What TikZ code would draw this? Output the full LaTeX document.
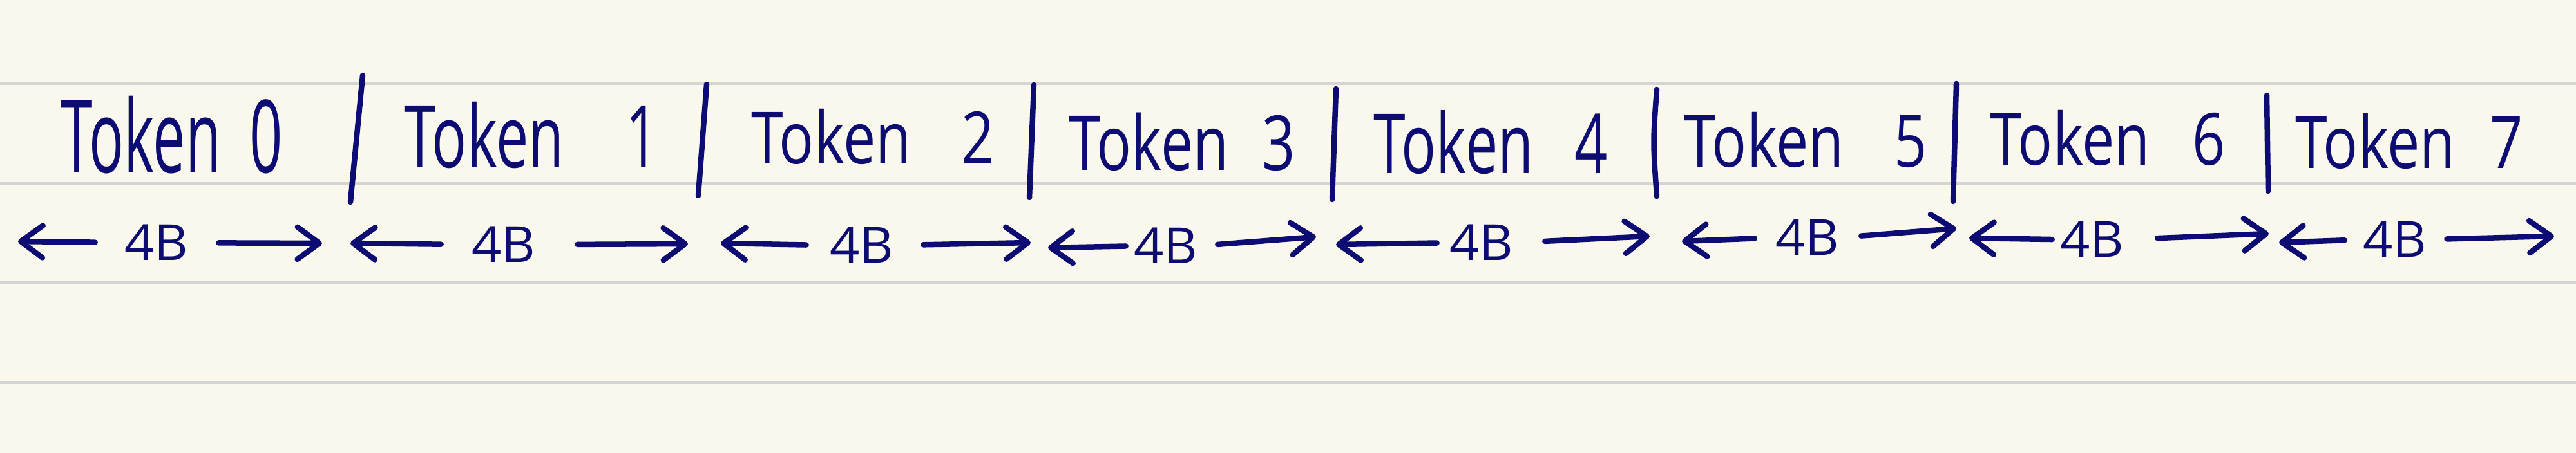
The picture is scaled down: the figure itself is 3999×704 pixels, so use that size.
\documentclass[tikz,border=0pt]{standalone}
\usepackage{fontspec}
\setmainfont{Open Sans}
\usetikzlibrary{arrows.meta}
\definecolor{paper}{RGB}{250,248,236}
\definecolor{rulegray}{RGB}{212,212,212}
\definecolor{ink}{RGB}{12,12,115}
\begin{document}
\begin{tikzpicture}[x=0.01cm,y=-0.01cm,
  ruleline/.style={rulegray, line width=0.04cm},
  sepline/.style={ink, line width=0.085cm, line cap=round},
  tok/.style={ink, inner sep=0pt, anchor=base, xscale=0.8, font=\fontsize{31.9pt}{36pt}\selectfont},
  sizelbl/.style={ink, inner sep=0pt, anchor=base, xscale=1.05, font=\fontsize{22pt}{26pt}\selectfont},
  arr/.style={ink, line width=0.085cm, line cap=round,
    -{Straight Barb[length=0.34cm,width=0.5cm,line cap=round,line join=round]}}]
\useasboundingbox (0,0) rectangle (3999,704);
\fill[paper] (0,0) rectangle (3999,704);
% ruled lines
\foreach \yy in {130,285,439,594} \draw[ruleline] (0,\yy) -- (3999,\yy);
% separators
\draw[sepline] (563,117) -- (544,314);
\draw[sepline] (1097,131) -- (1084,304);
\draw[sepline] (1605,132) -- (1598,307);
\draw[sepline] (2074,138) -- (2068,310);
\draw[sepline] (2572,139) .. controls (2566,220) .. (2572,305);
\draw[sepline] (3037,130) -- (3032,313);
\draw[sepline] (3519,148) -- (3521,297);
% token labels
\node[tok, yscale=1.4]  (t0) at (267,269)  {Token\hspace{0.56cm}0};
\node[tok, yscale=1.2]  (t1) at (825,261)  {Token\hspace{1.19cm}1};
\node[tok]              (t2) at (1355,255) {Token\hspace{0.97cm}2};
\node[tok, yscale=1.05] (t3) at (1835,265) {Token\hspace{0.65cm}3};
\node[tok, yscale=1.15] (t4) at (2314,270) {Token\hspace{0.8cm}4};
\node[tok]              (t5) at (2803,260) {Token\hspace{0.97cm}5};
\node[tok]              (t6) at (3272,257) {Token\hspace{0.82cm}6};
\node[tok]              (t7) at (3740,262) {Token\hspace{0.67cm}7};
% size labels
\node[sizelbl] (b0) at (243,405)  {4B};
\node[sizelbl] (b1) at (782,408)  {4B};
\node[sizelbl] (b2) at (1338,409) {4B};
\node[sizelbl] (b3) at (1810,410) {4B};
\node[sizelbl] (b4) at (2300,405) {4B};
\node[sizelbl] (b5) at (2806,397) {4B};
\node[sizelbl] (b6) at (3248,400) {4B};
\node[sizelbl] (b7) at (3718,400) {4B};
% free ends of arrows
\coordinate (l0) at (28,375);   \coordinate (r0) at (500,378);
\coordinate (l1) at (544,378);  \coordinate (r1) at (1068,379);
\coordinate (l2) at (1119,378); \coordinate (r2) at (1600,377);
\coordinate (l3) at (1627,385); \coordinate (r3) at (2043,368);
\coordinate (l4) at (2074,380); \coordinate (r4) at (2561,367);
\coordinate (l5) at (2611,375); \coordinate (r5) at (3037,355);
\coordinate (l6) at (3057,370); \coordinate (r6) at (3522,363);
\coordinate (l7) at (3538,377); \coordinate (r7) at (3965,367);
% arrows
\draw[arr, shorten <=0.45cm] (b0.west) -- (l0);
\draw[arr, shorten <=0.46cm] (b0.east) -- (r0);
\draw[arr, shorten <=0.47cm] (b1.west) -- (l1);
\draw[arr, shorten <=0.64cm] (b1.east) -- (r1);
\draw[arr, shorten <=0.36cm] (b2.west) -- (l2);
\draw[arr, shorten <=0.45cm] (b2.east) -- (r2);
\draw[arr, shorten <=0.12cm] (b3.west) -- (l3);
\draw[arr, shorten <=0.30cm] (b3.east) -- (r3);
\draw[arr, shorten <=0.19cm] (b4.west) -- (l4);
\draw[arr, shorten <=0.48cm] (b4.east) -- (r4);
\draw[arr, shorten <=0.32cm] (b5.west) -- (l5);
\draw[arr, shorten <=0.33cm] (b5.east) -- (r5);
\draw[arr, shorten <=0.12cm] (b6.west) -- (l6);
\draw[arr, shorten <=0.51cm] (b6.east) -- (r6);
\draw[arr, shorten <=0.28cm] (b7.west) -- (l7);
\draw[arr, shorten <=0.30cm] (b7.east) -- (r7);
\end{tikzpicture}
\end{document}
